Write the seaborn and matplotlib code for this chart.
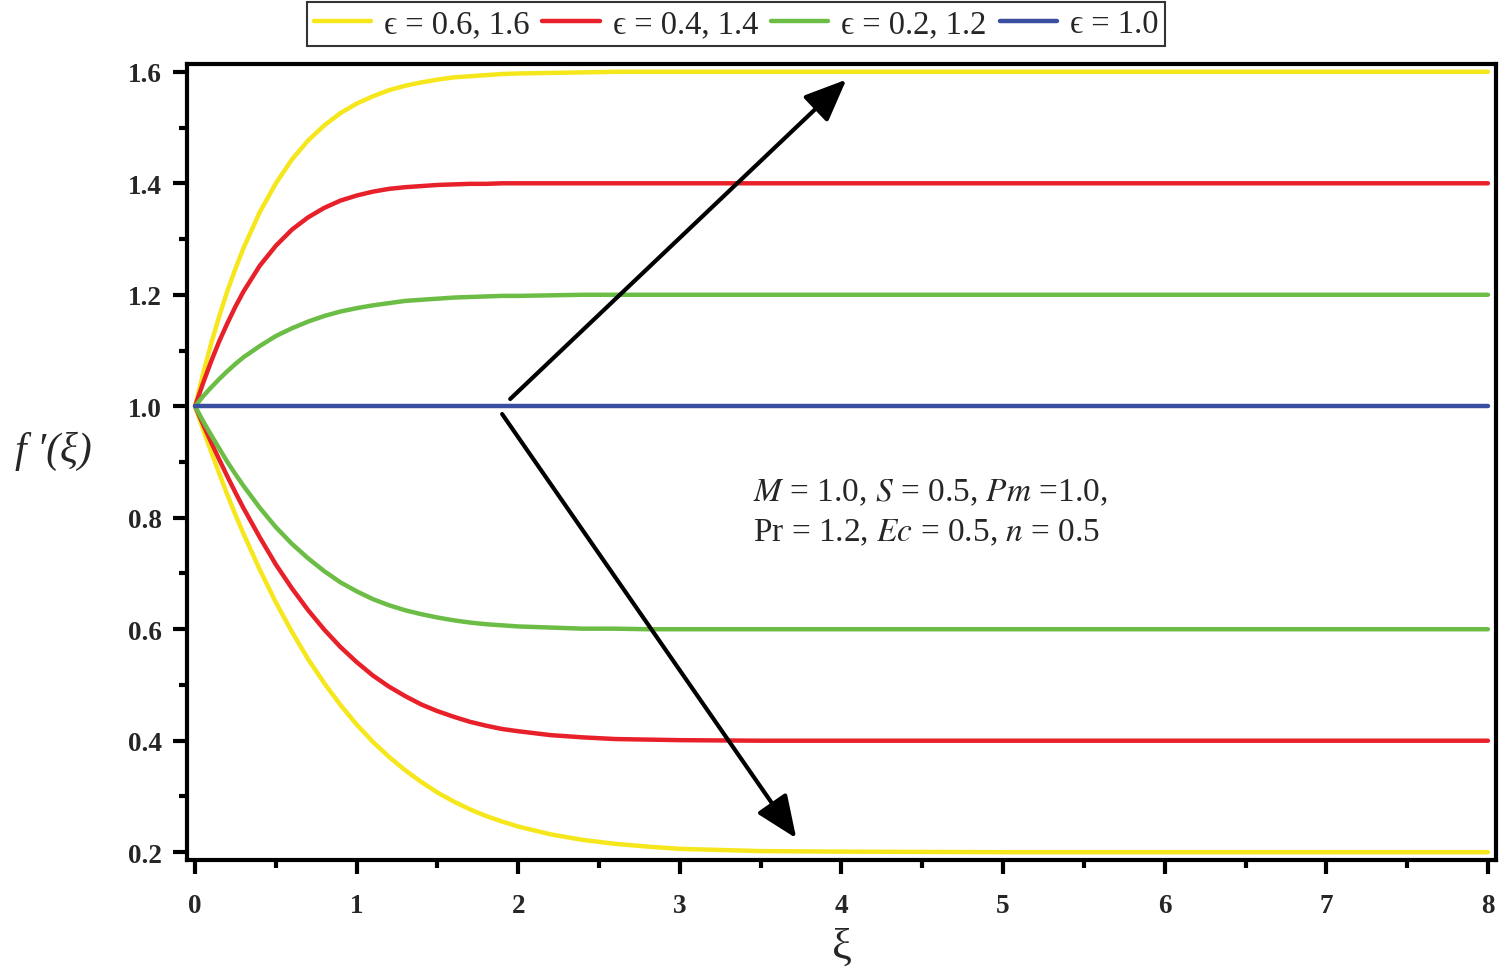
import numpy as np
import pandas as pd
import matplotlib
matplotlib.use("Agg")
import matplotlib.pyplot as plt
from matplotlib.lines import Line2D
import seaborn as sns

xi = [0, 0.05, 0.1, 0.15, 0.2, 0.25, 0.3,
      0.4, 0.5, 0.6, 0.7, 0.8, 0.9, 1.0, 1.1, 1.2, 1.3, 1.4, 1.5, 1.6, 1.7, 1.8, 1.9, 2.0,
      2.2, 2.4, 2.6, 2.8, 3.0,
      3.5, 4, 5, 6, 7, 8]

yellow_up = [1.0, 1.059, 1.113, 1.162, 1.207, 1.247, 1.284,
             1.348, 1.400, 1.443, 1.477, 1.504, 1.526, 1.543, 1.556, 1.567, 1.575, 1.581, 1.586,
             1.590, 1.592, 1.594, 1.596, 1.597,
             1.598, 1.599, 1.600, 1.600, 1.600,
             1.600, 1.600, 1.600, 1.600, 1.600, 1.600]
red_up = [1.0, 1.042, 1.081, 1.117, 1.149, 1.179, 1.206,
          1.252, 1.288, 1.317, 1.339, 1.356, 1.369, 1.378, 1.385, 1.390, 1.393, 1.395, 1.397,
          1.398, 1.399, 1.399, 1.400, 1.400,
          1.400, 1.400, 1.400, 1.400, 1.400,
          1.400, 1.400, 1.400, 1.400, 1.400, 1.400]
green_up = [1.0, 1.018, 1.034, 1.049, 1.063, 1.076, 1.088,
            1.108, 1.126, 1.140, 1.152, 1.162, 1.170, 1.176, 1.181, 1.185, 1.189, 1.191, 1.193,
            1.195, 1.196, 1.197, 1.198, 1.198,
            1.199, 1.200, 1.200, 1.200, 1.200,
            1.200, 1.200, 1.200, 1.200, 1.200, 1.200]
blue_mid = [1.0] * 35
green_low = [1.0, 0.973, 0.948, 0.924, 0.900, 0.878, 0.857,
             0.818, 0.783, 0.753, 0.727, 0.704, 0.684, 0.668, 0.654, 0.643, 0.634, 0.627, 0.621,
             0.616, 0.612, 0.609, 0.607, 0.605,
             0.603, 0.601, 0.601, 0.600, 0.600,
             0.600, 0.600, 0.600, 0.600, 0.600, 0.600]
red_low = [1.0, 0.967, 0.935, 0.904, 0.874, 0.845, 0.817,
           0.765, 0.716, 0.673, 0.634, 0.599, 0.568, 0.541, 0.517, 0.497, 0.480, 0.465, 0.453,
           0.443, 0.434, 0.427, 0.421, 0.417,
           0.410, 0.406, 0.403, 0.402, 0.401,
           0.400, 0.400, 0.400, 0.400, 0.400, 0.400]
yellow_low = [1.0, 0.958, 0.918, 0.879, 0.841, 0.805, 0.771,
              0.707, 0.648, 0.595, 0.546, 0.503, 0.464, 0.429, 0.398, 0.371, 0.347, 0.326, 0.307,
              0.291, 0.277, 0.265, 0.255, 0.246,
              0.232, 0.222, 0.215, 0.210, 0.206,
              0.202, 0.201, 0.200, 0.200, 0.200, 0.200]

labels = ["ϵ = 0.6, 1.6", "ϵ = 0.4, 1.4", "ϵ = 0.2, 1.2", "ϵ = 1.0"]
colors = ["#F5E71C", "#E8202A", "#6CBD45", "#3A4FA0"]

series = [
    (labels[0], "up", yellow_up), (labels[0], "low", yellow_low),
    (labels[1], "up", red_up), (labels[1], "low", red_low),
    (labels[2], "up", green_up), (labels[2], "low", green_low),
    (labels[3], "mid", blue_mid),
]
rows = []
for lab, br, vals in series:
    for x, v in zip(xi, vals):
        rows.append({"xi": x, "f": v, "eps": lab, "branch": br})
df = pd.DataFrame(rows)

sns.set_style("white")
plt.rcParams["font.family"] = ["Liberation Serif", "DejaVu Serif"]
plt.rcParams["mathtext.fontset"] = "stix"

fig = plt.figure(figsize=(15.04, 9.78), dpi=100)
ax = fig.add_axes([187 / 1504, 1 - 861 / 978, (1496 - 187) / 1504, (861 - 65) / 978])

sns.lineplot(data=df, x="xi", y="f", hue="eps", units="branch", estimator=None,
             palette=dict(zip(labels, colors)), hue_order=labels, linewidth=3.2,
             legend=False, ax=ax, sort=False)

ax.set_xlim(-0.05, 8.05)
ax.set_ylim(0.186, 1.614)
ax.set_xticks(np.arange(0, 9, 1))
ax.set_xticks(np.arange(0, 8.01, 0.5), minor=True)
ax.set_yticks(np.arange(0.2, 1.61, 0.2))
ax.set_yticks(np.arange(0.2, 1.61, 0.1), minor=True)
ax.set_xticklabels([str(i) for i in range(9)])
ax.set_yticklabels([f"{v:.1f}" for v in np.arange(0.2, 1.61, 0.2)])
ax.tick_params(axis="both", which="major", direction="out", length=10, width=3.0,
               labelsize=19.5, color="black")
ax.tick_params(axis="both", which="minor", direction="out", length=6, width=3.0, color="black")
ax.tick_params(axis="x", which="major", pad=14)
ax.tick_params(axis="y", which="major", pad=8)
ax.tick_params(bottom=True, left=True, top=False, right=False, which="both")
for lab in ax.get_xticklabels() + ax.get_yticklabels():
    lab.set_fontweight("bold")
for sp in ax.spines.values():
    sp.set_linewidth(3.0)
    sp.set_color("black")

ax.set_xlabel("ξ", fontsize=32, labelpad=6)
ax.set_ylabel("f ′(ξ)", fontsize=30, rotation=0, fontstyle="italic")
ax.yaxis.set_label_coords(-0.102, 0.49)

arrow_style = "-|>,head_length=2.6,head_width=1.1"
ax.annotate("", xy=(4.03, 1.586), xytext=(1.95, 1.013),
            arrowprops=dict(arrowstyle=arrow_style, color="black", lw=3.0, shrinkA=0, shrinkB=0))
ax.annotate("", xy=(3.72, 0.225), xytext=(1.90, 0.986),
            arrowprops=dict(arrowstyle=arrow_style, color="black", lw=3.0, shrinkA=0, shrinkB=0))

ax.text(3.45, 0.846, r"$M$ = 1.0, $S$ = 0.5, $Pm$ =1.0,", fontsize=24, va="center", ha="left")
ax.text(3.45, 0.774, r"Pr = 1.2, $Ec$ = 0.5, $n$ = 0.5", fontsize=24, va="center", ha="left")

handles = [Line2D([0], [0], color=c, lw=3.2) for c in colors]
leg = fig.legend(handles, labels, loc="center", bbox_to_anchor=(736 / 1504, 1 - 25 / 978),
                 ncol=4, fontsize=23.5, frameon=True, fancybox=False, handlelength=1.75,
                 handletextpad=0.4, columnspacing=0.4, borderpad=0.2, borderaxespad=0)
leg.get_frame().set_edgecolor("black")
leg.get_frame().set_linewidth(1.5)

fig.savefig("out.png", dpi=100)
